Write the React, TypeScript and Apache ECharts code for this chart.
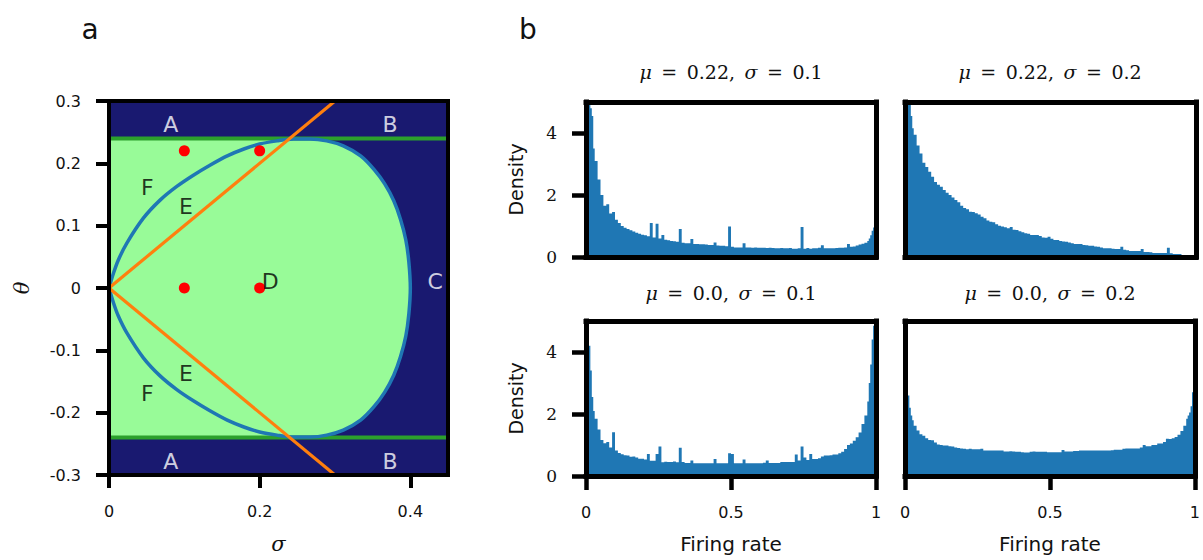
import React, { useEffect, useRef } from 'react';
import * as echarts from 'echarts';

// ---------- Panel a data ----------
const boundarySigma = [0, 0.006, 0.0124, 0.0235, 0.0456, 0.0678, 0.09, 0.112, 0.134, 0.157, 0.179, 0.2, 0.223, 0.245, 0.267, 0.289, 0.311, 0.334, 0.352, 0.366, 0.378, 0.387, 0.394, 0.398, 0.4];
const boundaryTheta = [0, 0.024, 0.045, 0.0717, 0.112, 0.141, 0.163, 0.181, 0.197, 0.212, 0.223, 0.231, 0.236, 0.239, 0.239, 0.236, 0.228, 0.212, 0.19, 0.167, 0.14, 0.11, 0.077, 0.042, 0];
const thetaLine = 0.24;
const orangeEnd = 0.3;
const dotSigma = [0.1, 0.2, 0.1, 0.2];
const dotTheta = [0.22, 0.22, 0, 0];
const regionNames = ['A', 'B', 'C', 'D', 'E', 'F', 'A', 'B', 'E', 'F'];
const regionSigma = [0.082, 0.373, 0.433, 0.214, 0.102, 0.051, 0.082, 0.373, 0.102, 0.051];
const regionTheta = [0.262, 0.262, 0.01, 0.011, 0.131, 0.161, -0.278, -0.278, -0.137, -0.169];
const regionColors = ['#ffffff', '#ffffff', '#ffffff', '#000000', '#000000', '#000000', '#ffffff', '#ffffff', '#000000', '#000000'];
const sigmaTicks = [0, 0.2, 0.4];
const thetaTicks = [-0.3, -0.2, -0.1, 0, 0.1, 0.2, 0.3];

// ---------- Panel b data ----------
const histTitles = ['μ = 0.22, σ = 0.1', 'μ = 0.22, σ = 0.2', 'μ = 0.0, σ = 0.1', 'μ = 0.0, σ = 0.2'];
const densityTicks = [0, 2, 4];
const rateTicks = [0, 0.5, 1];
// bin edges: fine (0.005) near both ends, 0.01 in between
const fineLeftEdges = [0, 0.005, 0.01, 0.015, 0.02, 0.025];
const fineRightEdges = [0.97, 0.975, 0.98, 0.985, 0.99, 0.995, 1.0];
const coarseStep = 0.01;

const histMu022Sig01 = [
  5.0, 4.94, 4.94, 4.8, 4.55, 3.5,
  3.1, 2.5, 2.0, 1.65, 1.7, 1.4, 1.45,
  1.2, 1.1, 1.0, 0.94, 0.9, 0.86, 0.82, 0.78, 0.75, 0.72,
  0.7, 0.67, 1.1, 0.63, 1.07, 0.6, 0.71, 0.56, 0.54, 0.52,
  0.51, 0.49, 0.9, 0.46, 0.44, 0.44, 0.58, 0.42, 0.42, 0.41,
  0.41, 0.4, 0.39, 0.39, 0.47, 0.37, 0.36, 0.36, 0.35, 0.98,
  0.33, 0.31, 0.31, 0.31, 0.44, 0.31, 0.31, 0.3, 0.31, 0.3,
  0.3, 0.3, 0.29, 0.3, 0.29, 0.28, 0.28, 0.29, 0.28, 0.28,
  0.29, 0.27, 0.27, 0.28, 0.97, 0.27, 0.29, 0.27, 0.28, 0.28,
  0.3, 0.38, 0.28, 0.28, 0.28, 0.28, 0.29, 0.3, 0.3, 0.31,
  0.42, 0.33, 0.34, 0.37, 0.4, 0.43, 0.46,
  0.52, 0.6, 0.7, 0.85, 0.95, 1.0,
];
const histMu022Sig02 = [
  5.0, 4.95, 4.94, 4.9, 4.55, 4.15,
  3.94, 3.6, 3.34, 3.04, 2.9, 2.75, 2.59,
  2.42, 2.33, 2.27, 2.16, 2.07, 2.0, 1.92, 1.84, 1.77, 1.65,
  1.58, 1.54, 1.46, 1.45, 1.41, 1.37, 1.3, 1.25, 1.18, 1.14,
  1.12, 1.06, 1.01, 0.98, 0.96, 0.93, 0.97, 0.88, 0.87, 0.83,
  0.8, 0.77, 0.75, 0.71, 0.71, 0.71, 0.68, 0.63, 0.62, 0.65,
  0.59, 0.55, 0.55, 0.52, 0.5, 0.49, 0.47, 0.44, 0.42, 0.42,
  0.42, 0.39, 0.38, 0.36, 0.36, 0.34, 0.33, 0.31, 0.28, 0.28,
  0.28, 0.27, 0.26, 0.26, 0.33, 0.23, 0.22, 0.19, 0.19, 0.19,
  0.19, 0.26, 0.16, 0.16, 0.15, 0.13, 0.13, 0.13, 0.13, 0.13,
  0.3, 0.12, 0.1, 0.1, 0.1, 0.02, 0,
  0, 0, 0, 0, 0, 0,
];
const histMu0Sig01 = [
  5.0, 4.7, 4.2, 3.4, 2.55, 2.1,
  1.85, 1.5, 1.16, 1.06, 1.1, 0.92, 1.41,
  0.82, 0.74, 0.7, 0.67, 0.66, 0.62, 0.63, 0.6, 0.56, 0.56,
  0.53, 0.71, 0.49, 0.49, 0.71, 0.95, 0.44, 0.46, 0.45, 0.45,
  0.47, 0.44, 0.91, 0.45, 0.42, 0.42, 0.5, 0.41, 0.41, 0.41,
  0.41, 0.41, 0.41, 0.41, 0.55, 0.41, 0.41, 0.41, 0.41, 0.73,
  0.71, 0.41, 0.41, 0.41, 0.53, 0.41, 0.41, 0.41, 0.41, 0.41,
  0.41, 0.43, 0.5, 0.42, 0.42, 0.42, 0.42, 0.45, 0.45, 0.45,
  0.45, 0.45, 0.69, 0.5, 0.95, 0.6, 0.52, 0.71, 0.55, 0.55,
  0.57, 0.63, 0.66, 0.66, 0.67, 0.69, 0.69, 0.73, 0.78, 0.87,
  1.0, 1.05, 1.14, 1.25, 1.4, 1.68, 1.95,
  2.4, 3.0, 3.6, 4.4, 4.85, 5.0,
];
const histMu0Sig02 = [
  3.3, 3.05, 2.6, 2.2, 1.95, 1.8,
  1.62, 1.47, 1.35, 1.3, 1.22, 1.16, 1.15,
  1.08, 1.02, 1.0, 0.98, 0.98, 0.96, 0.95, 0.92, 0.9, 0.89,
  0.88, 0.86, 0.88, 0.86, 0.86, 0.86, 0.88, 0.82, 0.82, 0.82,
  0.82, 0.82, 0.82, 0.82, 0.79, 0.79, 0.8, 0.79, 0.78, 0.78,
  0.77, 0.76, 0.76, 0.78, 0.79, 0.78, 0.78, 0.78, 0.78, 0.77,
  0.77, 0.77, 0.77, 0.77, 0.84, 0.79, 0.79, 0.79, 0.81, 0.81,
  0.82, 0.82, 0.82, 0.82, 0.82, 0.82, 0.82, 0.82, 0.82, 0.82,
  0.82, 0.83, 0.85, 0.85, 0.85, 0.88, 0.89, 0.89, 0.89, 0.89,
  0.89, 0.92, 1.0, 0.96, 0.96, 1.0, 1.0, 1.05, 1.05, 1.1,
  1.2, 1.19, 1.22, 1.26, 1.33, 1.45, 1.62,
  1.85, 1.95, 2.05, 2.25, 2.7, 3.1,
];
const histList = [histMu022Sig01, histMu022Sig02, histMu0Sig01, histMu0Sig02];

const NAVY = '#191970';
const LIGHTGREEN = '#98fb98';
const GREEN = '#2ca02c';
const BLUE = '#1f77b4';
const ORANGE = '#ff7f0e';
const SANS = '"DejaVu Sans", sans-serif';
const SERIF = '"DejaVu Serif", serif';

function buildEdges(): number[] {
  const edges = [...fineLeftEdges];
  const start = 0.03;
  const end = fineRightEdges[0];
  const n = Math.round((end - start) / coarseStep);
  for (let i = 0; i < n; i++) edges.push(+(start + i * coarseStep).toFixed(4));
  return [...edges, ...fineRightEdges];
}

export default function App() {
  const ref = useRef<HTMLDivElement>(null);
  useEffect(() => {
    if (!ref.current) return;
    const chart = echarts.init(ref.current, undefined, { renderer: 'svg' });

    const upper = boundarySigma.map((s, i) => [s, boundaryTheta[i]]);
    const lowerBack = upper.slice(0, -1).reverse().map(([s, t]) => [s, -t]);
    const loop = [...upper, ...lowerBack];
    const maxT = Math.max(...boundaryTheta);
    const peakIdx = boundaryTheta.indexOf(maxT);
    const upperRight = upper.slice(peakIdx);
    const lowerRight = upperRight.slice(0, -1).reverse().map(([s, t]) => [s, -t]);
    const fillPoly = [[0, thetaLine], [upperRight[0][0], thetaLine], ...upperRight, ...lowerRight, [upperRight[0][0], -thetaLine], [0, -thetaLine]];

    const edges = buildEdges();

    const grids: any[] = [
      { left: 109, top: 101, width: 339, height: 374, show: true, backgroundColor: NAVY, borderWidth: 0 },
      { left: 586, top: 102, width: 290, height: 155 },
      { left: 905, top: 102, width: 291, height: 155 },
      { left: 586, top: 321, width: 290, height: 155 },
      { left: 905, top: 321, width: 291, height: 155 },
    ];

    const frameLine = (w: number) => ({ show: true, onZero: false, lineStyle: { color: '#000', width: w, cap: 'square' } });
    const plainAxis = (gridIndex: number, position: string, min: number, max: number, w: number) => ({
      type: 'value', gridIndex, position, min, max, z: 10,
      axisLine: frameLine(w), axisTick: { show: false }, axisLabel: { show: false }, splitLine: { show: false },
    });

    const xAxes: any[] = [
      {
        type: 'value', gridIndex: 0, position: 'bottom', min: 0, max: 0.45, z: 10,
        axisLine: frameLine(4),
        axisTick: { show: true, length: 13, lineStyle: { color: '#000', width: 4 }, customValues: sigmaTicks },
        axisLabel: { customValues: sigmaTicks, margin: 28, fontFamily: SANS, fontSize: 16, color: '#111', formatter: (v: number) => (Math.abs(v) < 1e-9 ? '0' : String(+v.toFixed(2))) },
        splitLine: { show: false },
        name: 'σ', nameLocation: 'middle', nameGap: 58,
        nameTextStyle: { fontFamily: SERIF, fontStyle: 'italic', fontSize: 21, color: '#111' },
      },
      plainAxis(0, 'top', 0, 0.45, 4),
    ];
    const yAxes: any[] = [
      {
        type: 'value', gridIndex: 0, position: 'left', min: -0.3, max: 0.3, z: 10,
        axisLine: frameLine(4),
        axisTick: { show: true, length: 13, lineStyle: { color: '#000', width: 4 }, customValues: thetaTicks },
        axisLabel: { customValues: thetaTicks, margin: 28, fontFamily: SANS, fontSize: 16, color: '#111', formatter: (v: number) => (Math.abs(v) < 1e-9 ? '0' : v.toFixed(1)) },
        splitLine: { show: false },
        name: 'θ', nameLocation: 'middle', nameGap: 77, nameRotate: 90,
        nameTextStyle: { fontFamily: SERIF, fontStyle: 'italic', fontSize: 21, color: '#111' },
      },
      plainAxis(0, 'right', -0.3, 0.3, 4),
    ];

    for (let k = 0; k < 4; k++) {
      const g = k + 1;
      const bottomRow = k >= 2;
      const leftCol = k % 2 === 0;
      xAxes.push({
        type: 'value', gridIndex: g, position: 'bottom', min: 0, max: 1, z: 10,
        axisLine: frameLine(5),
        axisTick: { show: bottomRow, length: 14, lineStyle: { color: '#000', width: 4.5 }, customValues: rateTicks },
        axisLabel: { show: bottomRow, customValues: rateTicks, margin: 28, fontFamily: SANS, fontSize: 16, color: '#111' },
        splitLine: { show: false },
        name: bottomRow ? 'Firing rate' : '', nameLocation: 'middle', nameGap: 58,
        nameTextStyle: { fontFamily: SANS, fontSize: 20, color: '#111' },
      });
      xAxes.push(plainAxis(g, 'top', 0, 1, 5));
      yAxes.push({
        type: 'value', gridIndex: g, position: 'left', min: 0, max: 5, z: 10,
        axisLine: frameLine(5),
        axisTick: { show: leftCol, length: 14, lineStyle: { color: '#000', width: 4.5 }, customValues: densityTicks },
        axisLabel: { show: leftCol, customValues: densityTicks, margin: 29, fontFamily: SERIF, fontSize: 17, color: '#111' },
        splitLine: { show: false },
        name: leftCol ? 'Density' : '', nameLocation: 'middle', nameGap: 61, nameRotate: 90,
        nameTextStyle: { fontFamily: SANS, fontSize: 19, color: '#111' },
      });
      yAxes.push(plainAxis(g, 'right', 0, 5, 5));
    }

    const series: any[] = [
      {
        type: 'custom', xAxisIndex: 0, yAxisIndex: 0, clip: true, z: 1,
        data: fillPoly,
        renderItem: (params: any, api: any) => {
          if (params.dataIndex !== 0) return null;
          return { type: 'polygon', shape: { points: fillPoly.map((p) => api.coord(p)) }, style: { fill: LIGHTGREEN } };
        },
      },
      {
        type: 'line', xAxisIndex: 0, yAxisIndex: 0, data: [[0, thetaLine], [0.45, thetaLine]], symbol: 'none', z: 2,
        lineStyle: { color: GREEN, width: 4 },
      },
      {
        type: 'line', xAxisIndex: 0, yAxisIndex: 0, data: [[0, -thetaLine], [0.45, -thetaLine]], symbol: 'none', z: 2,
        lineStyle: { color: GREEN, width: 4 },
      },
      {
        type: 'line', xAxisIndex: 0, yAxisIndex: 0, data: loop, symbol: 'none', z: 3, smooth: 0.3,
        lineStyle: { color: BLUE, width: 3.5, join: 'round' },
      },
      {
        type: 'line', xAxisIndex: 0, yAxisIndex: 0, data: [[0, 0], [orangeEnd, orangeEnd]], symbol: 'none', z: 4,
        lineStyle: { color: ORANGE, width: 3.2 },
      },
      {
        type: 'line', xAxisIndex: 0, yAxisIndex: 0, data: [[0, 0], [orangeEnd, -orangeEnd]], symbol: 'none', z: 4,
        lineStyle: { color: ORANGE, width: 3.2 },
      },
      {
        type: 'scatter', xAxisIndex: 0, yAxisIndex: 0, z: 5,
        data: dotSigma.map((s, i) => [s, dotTheta[i]]),
        symbolSize: 11, itemStyle: { color: '#ff0000', opacity: 1 },
      },
      {
        type: 'scatter', xAxisIndex: 0, yAxisIndex: 0, z: 6,
        data: regionNames.map((n, i) => ({
          name: n, value: [regionSigma[i], regionTheta[i]],
          label: { color: regionColors[i] },
        })),
        symbolSize: 1, itemStyle: { color: 'rgba(0,0,0,0)' },
        label: { show: true, position: 'inside', formatter: '{b}', fontFamily: SANS, fontSize: 22 },
      },
    ];

    histList.forEach((vals, k) => {
      const pts: number[][] = [[0, 0]];
      vals.forEach((v, i) => { pts.push([edges[i], v]); pts.push([edges[i + 1], v]); });
      pts.push([1, 0]);
      series.push({
        type: 'custom', xAxisIndex: 2 * k + 2, yAxisIndex: 2 * k + 2, clip: true, z: 2,
        data: vals.map((v, i) => [(edges[i] + edges[i + 1]) / 2, v]),
        renderItem: (params: any, api: any) => {
          if (params.dataIndex !== 0) return null;
          return { type: 'polygon', shape: { points: pts.map((p) => api.coord(p)) }, style: { fill: BLUE } };
        },
      });
    });

    const titlePos = [[731, 72], [1050, 72], [731, 293], [1050, 293]];
    const graphics: any[] = histTitles.map((t, k) => ({
      type: 'text', x: titlePos[k][0], y: titlePos[k][1],
      style: {
        text: t.replace(/([μσ])/g, '{i|$1}').replace(/ /g, '\u2002'),
        rich: { i: { fontStyle: 'italic', fontFamily: SERIF, fontSize: 19, fill: '#111' } },
        fontFamily: SERIF, fontSize: 19, fill: '#111',
        align: 'center', verticalAlign: 'middle', textAlign: 'center', textVerticalAlign: 'middle',
      },
    }));
    graphics.push(
      { type: 'text', x: 90, y: 29, style: { text: 'a', fontFamily: SANS, fontSize: 28, fill: '#111', align: 'center', verticalAlign: 'middle', textAlign: 'center', textVerticalAlign: 'middle' } },
      { type: 'text', x: 528, y: 29, style: { text: 'b', fontFamily: SANS, fontSize: 28, fill: '#111', align: 'center', verticalAlign: 'middle', textAlign: 'center', textVerticalAlign: 'middle' } },
    );

    chart.setOption({
      animation: false,
      backgroundColor: '#ffffff',
      grid: grids,
      xAxis: xAxes,
      yAxis: yAxes,
      series,
      graphic: graphics,
    });
    return () => chart.dispose();
  }, []);
  return <div ref={ref} style={{ position: 'absolute', left: 0, top: 0, width: 1203, height: 560 }} />;
}
